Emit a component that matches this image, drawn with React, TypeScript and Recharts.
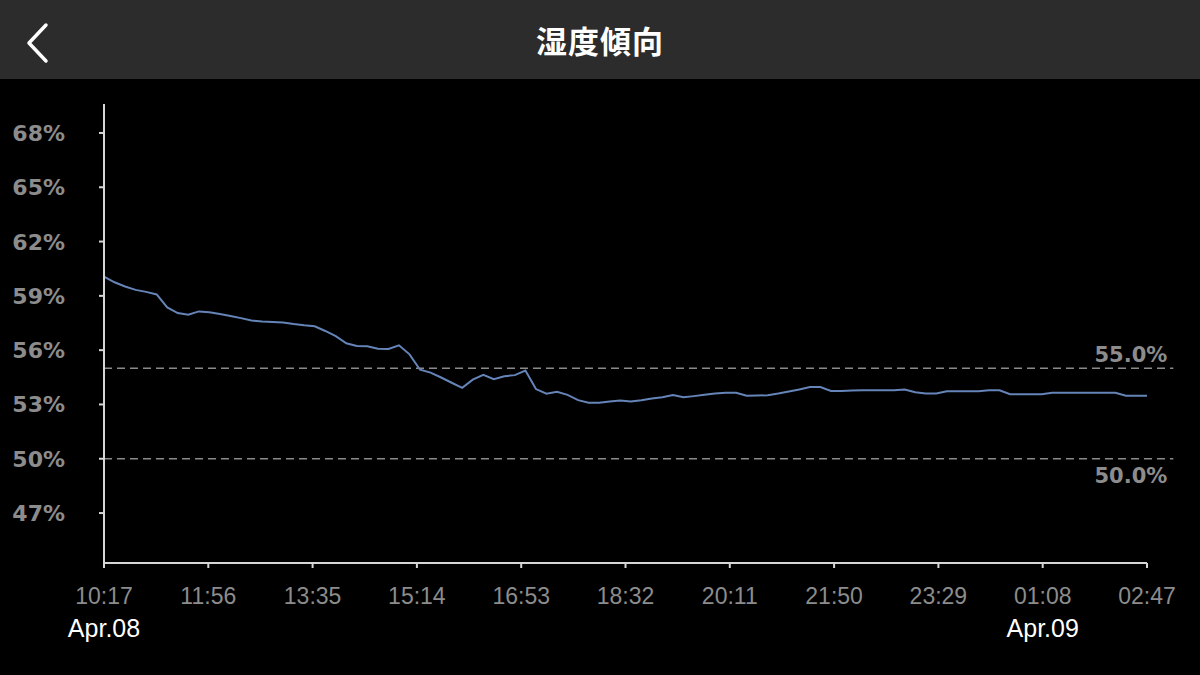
import React from 'react';
import { LineChart, Line, XAxis, YAxis, ReferenceLine } from 'recharts';

// humidity readings, one every 10 minutes from 10:17 (Apr.08)
const humidity = [
  60.06, 59.75, 59.52, 59.33, 59.22, 59.08, 58.36, 58.05, 57.96, 58.14,
  58.1, 58.0, 57.89, 57.77, 57.64, 57.58, 57.56, 57.53, 57.44, 57.37,
  57.32, 57.06, 56.77, 56.38, 56.23, 56.21, 56.08, 56.06, 56.27, 55.77,
  54.92, 54.76, 54.49, 54.2, 53.92, 54.37, 54.64, 54.39, 54.56, 54.62,
  54.87, 53.85, 53.59, 53.7, 53.53, 53.24, 53.1, 53.09, 53.16, 53.22,
  53.17, 53.23, 53.33, 53.4, 53.52, 53.4, 53.46, 53.53, 53.61, 53.65,
  53.65, 53.48, 53.49, 53.51, 53.6, 53.71, 53.83, 53.96, 53.96, 53.74,
  53.74, 53.77, 53.78, 53.78, 53.78, 53.78, 53.83, 53.67, 53.61, 53.61,
  53.73, 53.73, 53.73, 53.73, 53.78, 53.78, 53.57, 53.57, 53.57, 53.57,
  53.65, 53.65, 53.65, 53.65, 53.65, 53.65, 53.65, 53.48, 53.48, 53.48,
];
const sampleStep = 10; // minutes between readings

const xTicks = [0, 99, 198, 297, 396, 495, 594, 693, 792, 891, 990];
const xTickLabels = ['10:17', '11:56', '13:35', '15:14', '16:53', '18:32', '20:11', '21:50', '23:29', '01:08', '02:47'];
const dateTicks = [0, 891];
const dateLabels = ['Apr.08', 'Apr.09'];

const yTicks = [47, 50, 53, 56, 59, 62, 65, 68];
const refLevels = [55, 50];

const data = humidity.map((v, i) => ({ t: i * sampleStep, v }));

const AXIS = '#d6d6d6';
const GRAY = '#8c8c8c';

const XTick = ({ x, payload }: any) => {
  const idx = xTicks.indexOf(payload.value);
  const d = dateTicks.indexOf(payload.value);
  return (
    <g>
      <text x={x} y={525} textAnchor="middle" fill={GRAY} fontSize={23} fontFamily="'Liberation Sans', Arial, sans-serif">
        {xTickLabels[idx]}
      </text>
      {d >= 0 && (
        <text x={x} y={558} textAnchor="middle" fill="#ffffff" fontSize={25} fontWeight={500} fontFamily="'Liberation Sans', Arial, sans-serif">
          {dateLabels[d]}
        </text>
      )}
    </g>
  );
};

const YTick = ({ y, payload }: any) => (
  <text x={65} y={y + 8} textAnchor="end" fill={GRAY} fontSize={22} fontWeight="bold" fontFamily="'DejaVu Sans', sans-serif">
    {`${payload.value}%`}
  </text>
);

const RefLabel = ({ viewBox, text, below }: any) => {
  const right = viewBox.width != null ? viewBox.x + viewBox.width : Math.max(viewBox.x1 ?? 0, viewBox.x2 ?? 0);
  const y = viewBox.y ?? viewBox.y1;
  return (
    <text x={right - 6} y={below ? y + 24 : y - 6} textAnchor="end" fill={GRAY} fontSize={21} fontWeight="bold" fontFamily="'DejaVu Sans', sans-serif">
      {text}
    </text>
  );
};

export default function App() {
  return (
    <div style={{ position: 'absolute', left: 0, top: 0, width: 1200, height: 675, background: '#000', overflow: 'hidden' }}>
      {/* header */}
      <div style={{ position: 'relative', height: 79, background: '#2c2c2c' }}>
        <svg width={60} height={79} style={{ position: 'absolute', left: 0, top: 0 }}>
          <polyline points="46,25 29,43 46,61" fill="none" stroke="#fff" strokeWidth={3.5} strokeLinecap="round" strokeLinejoin="round" />
        </svg>
        <div
          style={{
            position: 'absolute', left: 0, right: 0, top: 0, height: 79, lineHeight: '79px', textAlign: 'center',
            color: '#fff', fontSize: 31, fontWeight: 'bold', fontFamily: "'Noto Sans CJK JP', sans-serif", letterSpacing: 1,
          }}
        >
          湿度傾向
        </div>
      </div>

      <LineChart width={1200} height={596} data={data} margin={{ top: 25, right: 53, bottom: 0, left: 0 }}>
        <XAxis
          dataKey="t"
          type="number"
          domain={[0, 990]}
          ticks={xTicks}
          interval={0}
          height={112}
          tickSize={5}
          axisLine={{ stroke: AXIS, strokeWidth: 2 }}
          tickLine={{ stroke: AXIS, strokeWidth: 2 }}
          tick={<XTick />}
        />
        <YAxis
          type="number"
          domain={[44.24, 69.6]}
          ticks={yTicks}
          interval={0}
          width={104}
          tickSize={5}
          axisLine={{ stroke: AXIS, strokeWidth: 2 }}
          tickLine={{ stroke: AXIS, strokeWidth: 2 }}
          tick={<YTick />}
        />
        {refLevels.map((lv, i) => (
          <ReferenceLine
            key={lv}
            segment={[{ x: 0, y: lv }, { x: 1015, y: lv }]}
            ifOverflow="visible"
            stroke="#8a8a8a"
            strokeWidth={1.5}
            strokeDasharray="8 5"
            label={<RefLabel text={`${lv.toFixed(1)}%`} below={i === 1} />}
          />
        ))}
        <Line
          type="linear"
          dataKey="v"
          stroke="#6584b8"
          strokeWidth={2}
          dot={false}
          isAnimationActive={false}
        />
      </LineChart>
    </div>
  );
}
